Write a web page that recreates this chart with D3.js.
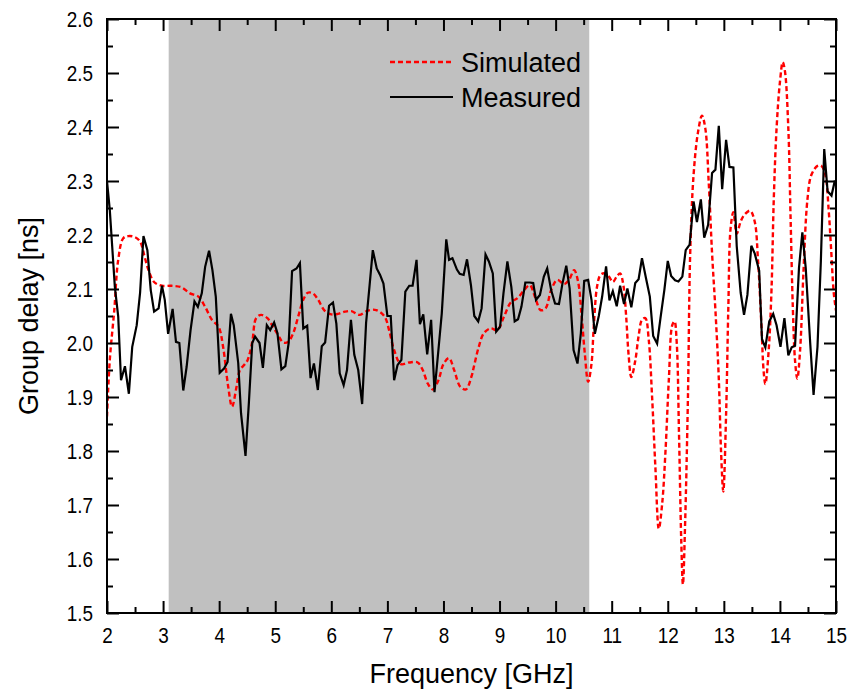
<!DOCTYPE html>
<html>
<head>
<meta charset="utf-8">
<script src="https://cdn.jsdelivr.net/npm/d3@7/dist/d3.min.js"></script>
<style>
html,body{margin:0;padding:0;background:#fff;}
svg{display:block;}
.tick-label{font-family:"Liberation Sans",Arial,sans-serif;font-size:22px;fill:#000;}
.title{font-family:"Liberation Sans",Arial,sans-serif;font-size:27px;fill:#000;}
</style>
</head>
<body>
<svg id="chart" width="851" height="695"></svg>
<script>
// ---- data ----
const xTicks = [2,3,4,5,6,7,8,9,10,11,12,13,14,15];
const yTicks = [1.5,1.6,1.7,1.8,1.9,2.0,2.1,2.2,2.3,2.4,2.5,2.6];
const yTickLabels = ["1.5","1.6","1.7","1.8","1.9","2.0","2.1","2.2","2.3","2.4","2.5","2.6"];
const bandStart = 3.1, bandEnd = 10.6;

const measuredFreq = [2.00,2.05,2.14,2.20,2.25,2.32,2.39,2.45,2.53,2.59,2.65,2.72,2.78,2.84,2.92,2.98,3.03,3.09,3.17,3.23,3.29,3.36,3.42,3.49,3.56,3.62,3.69,3.75,3.82,3.88,3.94,4.01,4.09,4.15,4.21,4.26,4.34,4.39,4.47,4.53,4.59,4.64,4.72,4.78,4.85,4.91,4.98,5.04,5.11,5.18,5.24,5.30,5.38,5.44,5.50,5.57,5.63,5.69,5.76,5.83,5.89,5.96,6.03,6.09,6.15,6.22,6.28,6.35,6.41,6.48,6.55,6.62,6.68,6.74,6.81,6.87,6.93,7.00,7.06,7.12,7.18,7.25,7.32,7.39,7.45,7.52,7.58,7.64,7.71,7.78,7.84,7.91,7.97,8.05,8.10,8.16,8.24,8.29,8.36,8.42,8.49,8.55,8.62,8.68,8.75,8.81,8.88,8.94,9.01,9.07,9.14,9.21,9.27,9.33,9.39,9.46,9.54,9.60,9.65,9.72,9.79,9.85,9.92,9.99,10.06,10.12,10.19,10.25,10.32,10.39,10.45,10.51,10.58,10.64,10.70,10.77,10.83,10.90,10.96,11.02,11.09,11.15,11.22,11.28,11.35,11.42,11.48,11.54,11.61,11.68,11.74,11.81,11.87,11.94,12.00,12.06,12.13,12.19,12.26,12.32,12.39,12.46,12.52,12.59,12.65,12.72,12.79,12.85,12.91,12.97,13.04,13.10,13.17,13.23,13.30,13.36,13.42,13.49,13.55,13.63,13.68,13.74,13.81,13.88,13.94,14.01,14.08,14.15,14.21,14.27,14.34,14.40,14.46,14.54,14.60,14.67,14.73,14.79,14.85,14.92,14.98];
const measuredDelay = [2.300,2.246,2.104,2.049,1.931,1.957,1.906,1.993,2.033,2.093,2.198,2.172,2.098,2.058,2.064,2.106,2.080,2.017,2.063,2.002,2.000,1.912,1.956,2.024,2.077,2.067,2.092,2.141,2.171,2.135,2.086,1.945,1.953,1.965,2.054,2.033,1.963,1.870,1.791,1.889,2.000,2.012,2.000,1.954,2.033,2.024,2.038,2.018,1.951,1.957,2.000,2.133,2.138,2.148,2.027,2.032,1.935,1.962,1.913,1.994,2.001,2.069,2.075,2.036,1.944,1.922,1.950,2.043,1.978,1.950,1.887,2.037,2.104,2.172,2.138,2.126,2.110,2.050,2.050,1.931,1.959,1.969,2.095,2.106,2.106,2.154,2.035,2.053,1.979,2.043,1.909,1.987,2.055,2.192,2.154,2.157,2.136,2.128,2.126,2.155,2.107,2.050,2.040,2.064,2.164,2.151,2.129,2.021,2.030,2.092,2.151,2.104,2.040,2.044,2.067,2.112,2.112,2.111,2.080,2.089,2.123,2.138,2.098,2.073,2.072,2.109,2.143,2.101,1.987,1.962,2.018,2.115,2.117,2.080,2.017,2.050,2.086,2.142,2.079,2.096,2.068,2.106,2.072,2.101,2.066,2.111,2.118,2.157,2.121,2.086,2.013,1.999,2.046,2.099,2.152,2.124,2.116,2.114,2.123,2.172,2.182,2.262,2.224,2.266,2.195,2.219,2.315,2.321,2.402,2.285,2.376,2.326,2.325,2.179,2.093,2.052,2.089,2.180,2.166,2.134,2.007,1.992,2.040,2.054,2.033,1.993,2.046,1.977,1.992,1.995,2.139,2.205,2.139,2.000,1.904,1.993,2.152,2.359,2.281,2.273,2.301];

const simFreq = [2.00,2.05,2.13,2.20,2.29,2.38,2.50,2.59,2.67,2.74,2.84,2.98,3.15,3.33,3.48,3.63,3.75,3.87,3.99,4.07,4.16,4.23,4.31,4.37,4.46,4.51,4.59,4.66,4.75,4.86,4.96,5.05,5.14,5.23,5.32,5.41,5.50,5.58,5.67,5.76,5.88,6.00,6.12,6.24,6.36,6.50,6.65,6.80,6.95,7.03,7.12,7.24,7.39,7.54,7.63,7.72,7.81,7.91,8.00,8.10,8.19,8.30,8.40,8.50,8.54,8.63,8.72,8.84,8.96,9.08,9.20,9.32,9.44,9.54,9.64,9.73,9.82,9.92,10.03,10.15,10.24,10.33,10.40,10.46,10.52,10.58,10.64,10.68,10.74,10.80,10.87,10.95,11.02,11.09,11.15,11.21,11.26,11.30,11.35,11.42,11.48,11.54,11.60,11.66,11.72,11.78,11.84,11.90,11.96,12.02,12.08,12.12,12.16,12.20,12.24,12.27,12.31,12.36,12.40,12.46,12.54,12.61,12.67,12.73,12.79,12.85,12.91,12.95,12.99,13.04,13.08,13.12,13.17,13.23,13.30,13.37,13.47,13.55,13.61,13.67,13.71,13.74,13.80,13.85,13.89,13.94,14.00,14.05,14.09,14.15,14.19,14.23,14.27,14.31,14.36,14.42,14.49,14.56,14.67,14.74,14.81,14.87,14.91,14.96,15.00];
const simDelay = [1.864,1.969,2.061,2.154,2.194,2.198,2.196,2.188,2.160,2.135,2.113,2.106,2.106,2.103,2.092,2.086,2.067,2.043,2.030,1.993,1.920,1.882,1.919,1.950,1.961,1.969,2.002,2.046,2.052,2.046,2.030,2.015,2.001,2.002,2.018,2.049,2.080,2.093,2.092,2.081,2.060,2.053,2.054,2.058,2.059,2.052,2.060,2.061,2.049,2.024,1.987,1.961,1.964,1.964,1.950,1.925,1.914,1.931,1.961,1.972,1.950,1.919,1.914,1.938,1.955,1.993,2.018,2.027,2.024,2.049,2.075,2.083,2.098,2.107,2.083,2.061,2.064,2.098,2.117,2.109,2.117,2.135,2.114,2.055,1.981,1.928,1.962,2.030,2.105,2.126,2.129,2.123,2.113,2.123,2.129,2.106,2.046,1.980,1.937,1.967,2.013,2.043,2.046,2.007,1.901,1.768,1.656,1.702,1.801,1.934,2.033,2.040,2.000,1.834,1.636,1.553,1.669,1.901,2.166,2.311,2.391,2.421,2.397,2.298,2.166,2.060,1.934,1.800,1.725,1.868,2.066,2.212,2.242,2.202,2.225,2.238,2.245,2.225,2.152,2.033,1.947,1.924,1.987,2.099,2.265,2.397,2.483,2.520,2.503,2.397,2.232,2.066,1.967,1.934,1.987,2.132,2.265,2.311,2.328,2.328,2.311,2.245,2.179,2.093,2.060];

const seriesNames = ["Simulated","Measured"];

// ---- layout ----
const L = 107, R = 836, T = 19, B = 613;
const svg = d3.select("#chart");
const x = d3.scaleLinear().domain([2,15]).range([L,R]);
const y = d3.scaleLinear().domain([1.5,2.6]).range([B,T]);

svg.append("defs").append("clipPath").attr("id","clip")
  .append("rect").attr("x",L).attr("y",T).attr("width",R-L).attr("height",B-T);

// shaded band
svg.append("rect")
  .attr("x",x(bandStart)).attr("y",T)
  .attr("width",x(bandEnd)-x(bandStart)).attr("height",B-T)
  .attr("fill","#c0c0c0");

const g = svg.append("g").attr("clip-path","url(#clip)");

const simData = simFreq.map((f,i)=>[f,simDelay[i]]);
const measData = measuredFreq.map((f,i)=>[f,measuredDelay[i]]);

g.append("path").datum(simData)
  .attr("fill","none").attr("stroke","#ff0000").attr("stroke-width",2.4)
  .attr("stroke-dasharray","5,3")
  .attr("d", d3.line().x(d=>x(d[0])).y(d=>y(d[1])).curve(d3.curveCatmullRom.alpha(0.5)));

g.append("path").datum(measData)
  .attr("fill","none").attr("stroke","#000").attr("stroke-width",2.2)
  .attr("stroke-linejoin","miter")
  .attr("d", d3.line().x(d=>x(d[0])).y(d=>y(d[1])));

// axes (ticks inward)
const minorX = d3.range(2.5,15,1);
const minorY = d3.range(1.55,2.6,0.1);
const major = 12, minor = 6;
const sx = 0.86;

const xb = d3.axisBottom(x).tickValues(xTicks).tickSize(-major).tickFormat(d=>d);
const xbMinor = d3.axisBottom(x).tickValues(minorX).tickSize(-minor).tickFormat("");
const xt = d3.axisTop(x).tickValues(xTicks).tickSize(-major).tickFormat("");
const xtMinor = d3.axisTop(x).tickValues(minorX).tickSize(-minor).tickFormat("");
const yl = d3.axisLeft(y).tickValues(yTicks).tickSize(-major).tickFormat((d,i)=>yTickLabels[i]);
const ylMinor = d3.axisLeft(y).tickValues(minorY).tickSize(-minor).tickFormat("");
const yr = d3.axisRight(y).tickValues(yTicks).tickSize(-major).tickFormat("");
const yrMinor = d3.axisRight(y).tickValues(minorY).tickSize(-minor).tickFormat("");

function styleAxis(sel){
  sel.attr("font-family",null).attr("font-size",null);
  sel.select(".domain").remove();
  sel.selectAll(".tick line").attr("stroke","#000").attr("stroke-width",2);
}
const gxb = svg.append("g").attr("transform",`translate(0,${B})`).call(xb).call(styleAxis);
gxb.selectAll(".tick text").attr("class","tick-label").attr("y",30).attr("dy",0)
  .attr("transform",`scale(${sx},1)`);
svg.append("g").attr("transform",`translate(0,${B})`).call(xbMinor).call(styleAxis);
svg.append("g").attr("transform",`translate(0,${T})`).call(xt).call(styleAxis);
svg.append("g").attr("transform",`translate(0,${T})`).call(xtMinor).call(styleAxis);
const gyl = svg.append("g").attr("transform",`translate(${L},0)`).call(yl).call(styleAxis);
gyl.selectAll(".tick text").attr("class","tick-label").attr("x",-14/sx).attr("dy","0.36em")
  .attr("transform",`scale(${sx},1)`);
svg.append("g").attr("transform",`translate(${L},0)`).call(ylMinor).call(styleAxis);
svg.append("g").attr("transform",`translate(${R},0)`).call(yr).call(styleAxis);
svg.append("g").attr("transform",`translate(${R},0)`).call(yrMinor).call(styleAxis);

// frame
svg.append("rect").attr("x",L).attr("y",T).attr("width",R-L).attr("height",B-T)
  .attr("fill","none").attr("stroke","#000").attr("stroke-width",2);

// titles
svg.append("text").attr("class","title").attr("x",(L+R)/2).attr("y",683)
  .attr("text-anchor","middle").text("Frequency [GHz]");
svg.append("text").attr("class","title")
  .attr("transform",`translate(38,${(T+B)/2}) rotate(-90)`)
  .attr("text-anchor","middle").text("Group delay [ns]");

// legend
const leg = svg.append("g");
const legY = [62,97];
leg.append("line").attr("x1",390).attr("x2",453).attr("y1",legY[0]).attr("y2",legY[0])
  .attr("stroke","#ff0000").attr("stroke-width",2.4).attr("stroke-dasharray","5,3");
leg.append("line").attr("x1",390).attr("x2",453).attr("y1",legY[1]).attr("y2",legY[1])
  .attr("stroke","#000").attr("stroke-width",2.2);
seriesNames.forEach((n,i)=>{
  leg.append("text").attr("class","title").attr("x",461).attr("y",legY[i]).attr("dy","0.36em").text(n);
});
</script>
</body>
</html>
